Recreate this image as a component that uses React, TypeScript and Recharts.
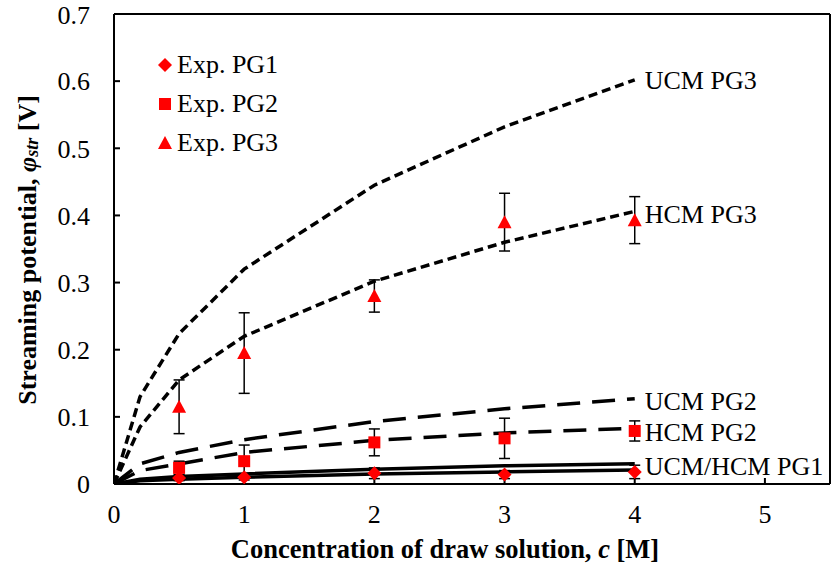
import React from 'react';
import {
  ComposedChart,
  Line,
  Scatter,
  ErrorBar,
  XAxis,
  YAxis,
  ReferenceLine,
} from 'recharts';

const FONT = '"Liberation Serif", "Times New Roman", serif';

const X_TICKS = [0, 1, 2, 3, 4, 5];
const Y_TICKS = [0, 0.1, 0.2, 0.3, 0.4, 0.5, 0.6, 0.7];

// model curves
const MODEL_X = [0, 0.2, 0.5, 1, 2, 3, 4];
const UCM_PG3 = [0, 0.13, 0.224, 0.32, 0.445, 0.532, 0.602];
const HCM_PG3 = [0, 0.085, 0.155, 0.22, 0.302, 0.36, 0.406];
const UCM_PG2 = [0, 0.03, 0.047, 0.066, 0.093, 0.112, 0.127];
const HCM_PG2 = [0, 0.02, 0.03, 0.047, 0.065, 0.076, 0.083];
const UCM_PG1 = [0, 0.007, 0.011, 0.015, 0.022, 0.027, 0.03];
const HCM_PG1 = [0, 0.005, 0.007, 0.01, 0.015, 0.018, 0.021];

// experiments
const EXP_X = [0.5, 1, 2, 3, 4];
const EXP_PG1 = [0.009, 0.01, 0.016, 0.014, 0.018];
const ERR_PG1 = [0.004, 0.004, 0.008, 0.006, 0.01];
const EXP_PG2 = [0.024, 0.034, 0.062, 0.068, 0.079];
const ERR_PG2 = [0.01, 0.024, 0.02, 0.03, 0.015];
const EXP_PG3 = [0.115, 0.195, 0.28, 0.39, 0.393];
const ERR_PG3 = [0.04, 0.06, 0.024, 0.043, 0.035];

const curve = (ys: number[]) => MODEL_X.map((x, i) => ({ x, y: ys[i] }));
const points = (ys: number[], errs: number[]) =>
  EXP_X.map((x, i) => ({ x, y: ys[i], err: errs[i] }));

const RED = '#ff0000';

const Diamond = ({ cx, cy }: any) => (
  <path d={`M${cx},${cy - 7}L${cx + 7},${cy}L${cx},${cy + 7}L${cx - 7},${cy}Z`} fill={RED} />
);
const Square = ({ cx, cy }: any) => <rect x={cx - 6} y={cy - 6} width={12} height={12} fill={RED} />;
const Triangle = ({ cx, cy }: any) => (
  <path d={`M${cx},${cy - 7}L${cx + 7},${cy + 6}L${cx - 7},${cy + 6}Z`} fill={RED} />
);

const endLabel = (text: string, dy: number) => (props: any) => {
  if (props.index !== MODEL_X.length - 1) return null;
  return (
    <text
      x={props.x + 10}
      y={props.y + dy}
      dominantBaseline="central"
      fontFamily={FONT}
      fontSize={26}
      fill="#000"
    >
      {text}
    </text>
  );
};

const models = [
  { key: 'ucm3', data: curve(UCM_PG3), dash: '9 5', label: endLabel('UCM PG3', 1) },
  { key: 'hcm3', data: curve(HCM_PG3), dash: '9 5', label: endLabel('HCM PG3', 3) },
  { key: 'ucm2', data: curve(UCM_PG2), dash: '23 12', label: endLabel('UCM PG2', 3) },
  { key: 'hcm2', data: curve(HCM_PG2), dash: '23 12', label: endLabel('HCM PG2', 4) },
  { key: 'ucm1', data: curve(UCM_PG1), dash: undefined, label: endLabel('UCM/HCM PG1', 3) },
  { key: 'hcm1', data: curve(HCM_PG1), dash: undefined, label: undefined },
];

const legendItems = [
  { name: 'Exp. PG1', Shape: Diamond },
  { name: 'Exp. PG2', Shape: Square },
  { name: 'Exp. PG3', Shape: Triangle },
];

const XTitle = () => (
  <text x={445} y={549} textAnchor="middle" dominantBaseline="central" fontFamily={FONT} fontSize={26.5} fontWeight="bold">
    Concentration of draw solution, <tspan fontStyle="italic">c</tspan> [M]
  </text>
);

const YTitle = () => (
  <text
    x={27}
    y={250}
    transform="rotate(-90, 27, 250)"
    textAnchor="middle"
    dominantBaseline="central"
    fontFamily={FONT}
    fontSize={26}
    fontWeight="bold"
  >
    Streaming potential, <tspan fontStyle="italic">φ</tspan>
    <tspan fontStyle="italic" fontSize={18} dy={5}>str</tspan>
    <tspan dy={-5}> [V]</tspan>
  </text>
);

export default function App() {
  return (
    <div style={{ position: 'absolute', left: 0, top: 0, width: 832, height: 573, background: '#fff' }}>
      <ComposedChart width={832} height={573} margin={{ top: 14, right: 2, left: 0, bottom: 0 }}>
        <XAxis
          type="number"
          dataKey="x"
          domain={[0, 5.5]}
          ticks={X_TICKS}
          allowDataOverflow
          height={89}
          stroke="#000"
          strokeWidth={2}
          tickSize={-6}
          tickMargin={27}
          tick={{ fill: '#000', fontFamily: FONT, fontSize: 26 }}
          label={<XTitle />}
        />
        <YAxis
          type="number"
          domain={[0, 0.7]}
          ticks={Y_TICKS}
          allowDataOverflow
          width={114}
          stroke="#000"
          strokeWidth={2}
          tickSize={-6}
          tickMargin={30}
          tick={{ fill: '#000', fontFamily: FONT, fontSize: 26 }}
          label={<YTitle />}
        />
        <ReferenceLine y={0.7} stroke="#000" strokeWidth={2} />
        <ReferenceLine x={5.5} stroke="#000" strokeWidth={2} />
        {models.map((m) => (
          <Line
            key={m.key}
            data={m.data}
            dataKey="y"
            type="linear"
            stroke="#000"
            strokeWidth={3.5}
            strokeDasharray={m.dash}
            dot={false}
            activeDot={false}
            label={m.label}
            isAnimationActive={false}
          />
        ))}
        <Scatter data={points(EXP_PG1, ERR_PG1)} dataKey="y" shape={Diamond} isAnimationActive={false}>
          <ErrorBar dataKey="err" direction="y" width={5.5} stroke="#000" strokeWidth={1.5} />
        </Scatter>
        <Scatter data={points(EXP_PG2, ERR_PG2)} dataKey="y" shape={Square} isAnimationActive={false}>
          <ErrorBar dataKey="err" direction="y" width={5.5} stroke="#000" strokeWidth={1.5} />
        </Scatter>
        <Scatter data={points(EXP_PG3, ERR_PG3)} dataKey="y" shape={Triangle} isAnimationActive={false}>
          <ErrorBar dataKey="err" direction="y" width={5.5} stroke="#000" strokeWidth={1.5} />
        </Scatter>
      </ComposedChart>
      <div style={{ position: 'absolute', left: 155, top: 45, fontFamily: FONT, fontSize: 26, lineHeight: '39px' }}>
        {legendItems.map(({ name, Shape }) => (
          <div key={name} style={{ display: 'flex', alignItems: 'center', height: 39 }}>
            <svg width={20} height={20} style={{ marginRight: 2 }}>
              <Shape cx={10} cy={10} />
            </svg>
            <span>{name}</span>
          </div>
        ))}
      </div>
    </div>
  );
}
